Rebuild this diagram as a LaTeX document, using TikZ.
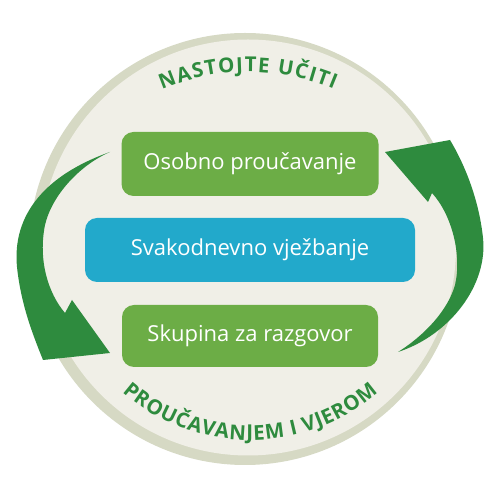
\documentclass[tikz,border=0pt]{standalone}
\usepackage{fontspec}
\setmainfont{Open Sans}
\usetikzlibrary{decorations.text}
\definecolor{ringgray}{RGB}{214,217,196}
\definecolor{paper}{RGB}{240,239,231}
\definecolor{leaf}{RGB}{108,173,70}
\definecolor{sky}{RGB}{34,169,203}
\definecolor{forest}{RGB}{46,139,62}

\begin{document}
\begin{tikzpicture}[x=1pt,y=1pt,
    box/.style={rounded corners=12pt, text=white, inner sep=0pt,
      font=\fontsize{22}{26}\selectfont, minimum height=64pt},
    arctext/.style={decorate, decoration={text along path,
      text align=fit to path, text color=forest,
      text={|\bfseries\fontsize{20.5}{20}\selectfont|#1}}}]
  \useasboundingbox[fill=white] (0,0) rectangle (500,500);
  % plate
  \fill[ringgray] (245,251) circle (216pt);
  \fill[paper] (248,252.5) circle (208pt);
  % arrows
  \fill[forest] (110,348) .. controls (45,325) and (12,285) .. (17,233)
    .. controls (21,195) and (33,165) .. (43,140) -- (110,147) -- (72,200)
    -- (65,187) .. controls (48,207) and (38,240) .. (45,275)
    .. controls (52,305) and (80,335) .. (110,348) -- cycle;
  \fill[forest] (398,148) .. controls (450,165) and (488,215) .. (483,262)
    .. controls (479,300) and (465,335) .. (450,360) -- (385,348) -- (428,298)
    -- (432,307) .. controls (452,285) and (462,245) .. (455,215)
    .. controls (448,190) and (425,165) .. (398,148) -- cycle;
  % boxes
  \node[box, fill=leaf, minimum width=257pt] (osobno) at (250,336) {Osobno proučavanje};
  \node[box, fill=sky, minimum width=330pt] (dnevno) at (250,250) {Svakodnevno vježbanje};
  \node[box, fill=leaf, minimum width=256pt, minimum height=62pt] (skupina) at (250,164) {Skupina za razgovor};
  % curved titles
  \path[arctext={NASTOJTE UČITI}] (248,208) ++(113:220pt)
    arc[start angle=113, end angle=67, radius=220pt];
  \path[arctext={PROUČAVANJEM I VJEROM}] (250,255) ++(229:195pt)
    arc[start angle=229, end angle=311, radius=195pt];
\end{tikzpicture}
\end{document}
